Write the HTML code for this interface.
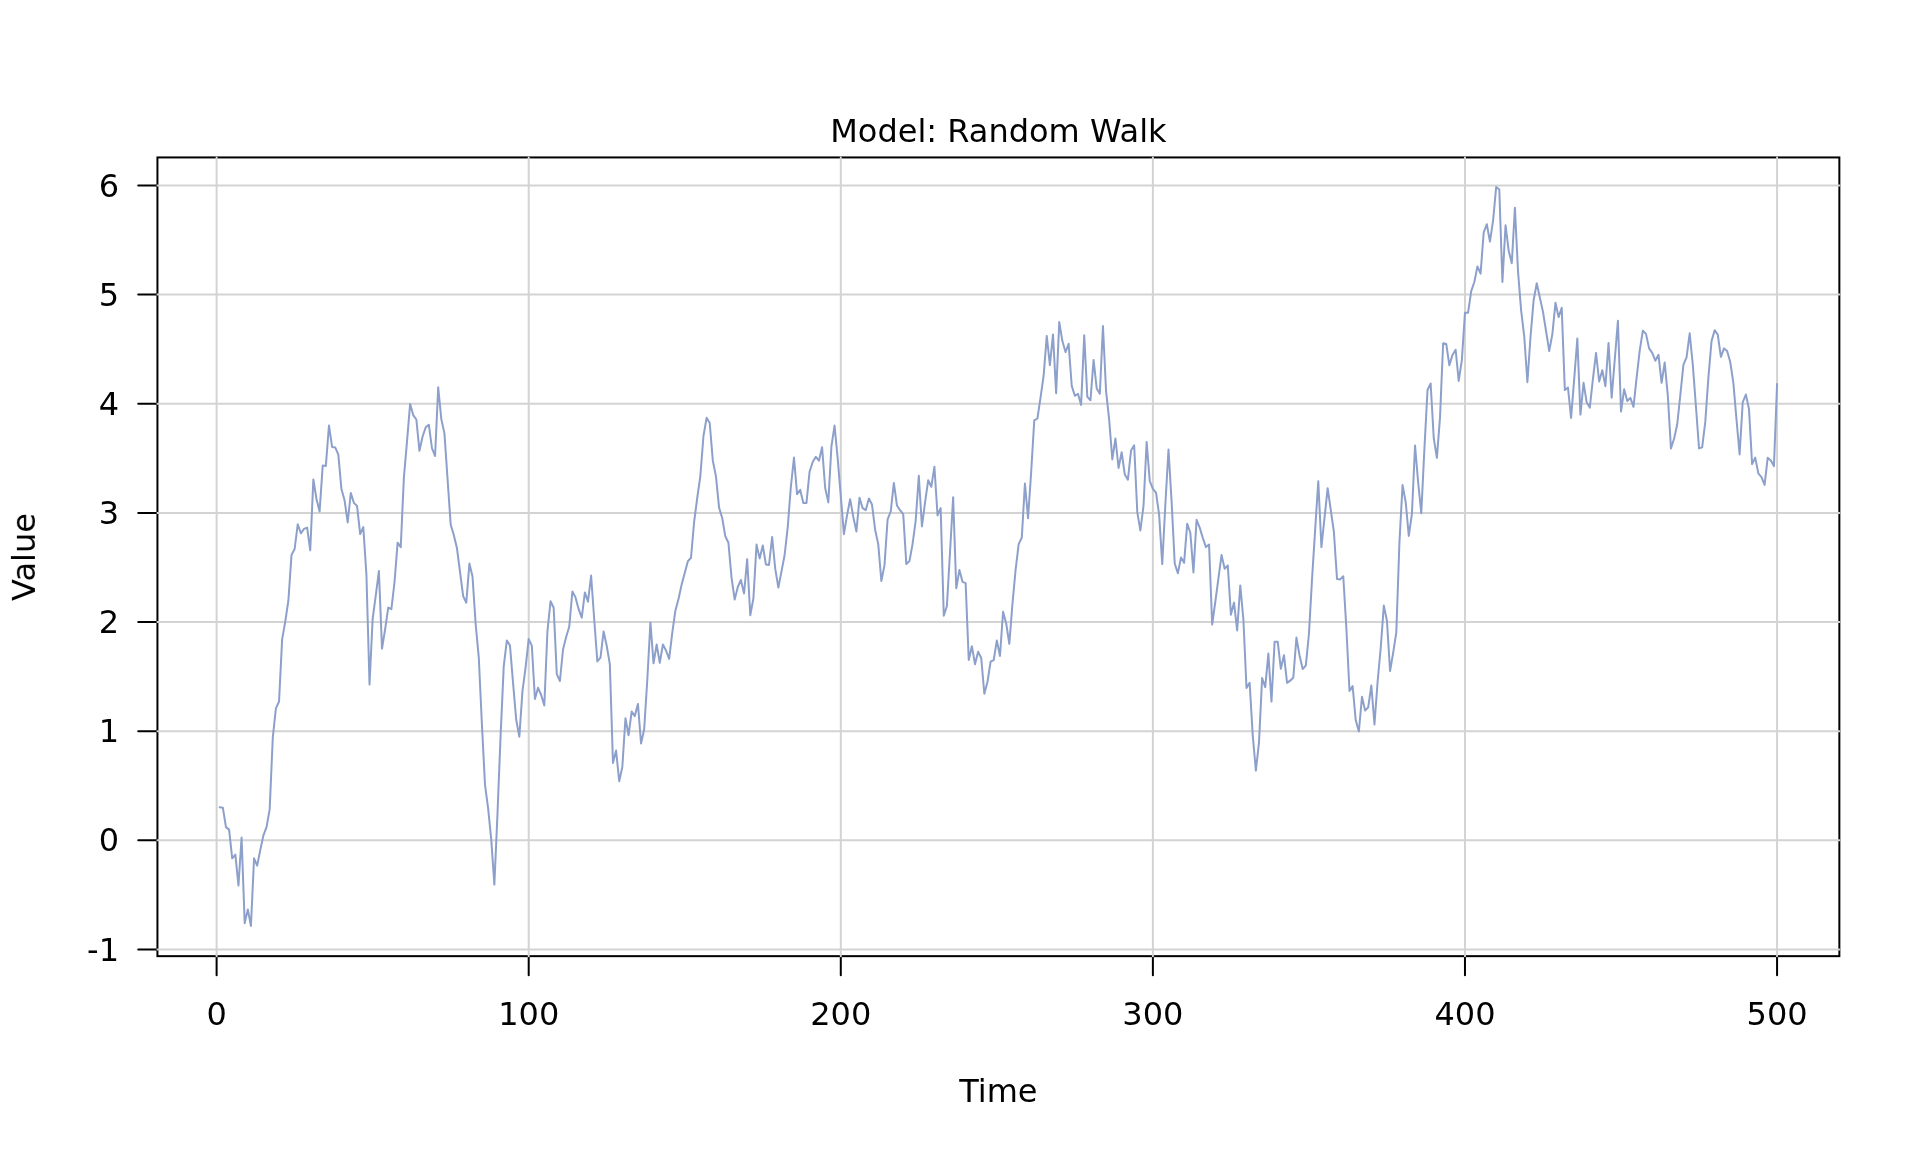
<!DOCTYPE html>
<html><head><meta charset="utf-8"><title>Model: Random Walk</title>
<style>html,body{margin:0;padding:0;background:#fff;overflow:hidden}svg{display:block}</style>
</head><body>
<svg width="1920" height="1152" viewBox="0 0 1920 1152">
<rect x="0" y="0" width="1920" height="1152" fill="#fff"/>
<rect x="157.44" y="157.44" width="1681.92" height="798.72" fill="none" stroke="#000" stroke-width="2"/>
<path d="M216.61 956.16V975.36M528.70 956.16V975.36M840.79 956.16V975.36M1152.88 956.16V975.36M1464.97 956.16V975.36M1777.07 956.16V975.36M157.44 949.40H138.24M157.44 840.27H138.24M157.44 731.14H138.24M157.44 622.01H138.24M157.44 512.88H138.24M157.44 403.75H138.24M157.44 294.62H138.24M157.44 185.49H138.24" stroke="#000" stroke-width="2" stroke-linecap="round" fill="none"/>
<path d="M216.61 157.44V956.16M528.70 157.44V956.16M840.79 157.44V956.16M1152.88 157.44V956.16M1464.97 157.44V956.16M1777.07 157.44V956.16M157.44 949.40H1839.36M157.44 840.27H1839.36M157.44 731.14H1839.36M157.44 622.01H1839.36M157.44 512.88H1839.36M157.44 403.75H1839.36M157.44 294.62H1839.36M157.44 185.49H1839.36" stroke="#d3d3d3" stroke-width="2" stroke-linecap="round" fill="none"/>
<polyline points="219.73,807.30 222.85,807.70 225.97,827.10 229.09,829.60 232.21,858.30 235.34,854.60 238.46,885.40 241.58,837.50 244.70,923.30 247.82,909.40 250.94,926.00 254.06,858.30 257.18,865.60 260.30,850.00 263.42,835.40 266.54,827.10 269.67,809.40 272.79,737.50 275.91,708.30 279.03,701.50 282.15,639.10 285.27,621.40 288.39,600.50 291.51,554.90 294.63,549.00 297.75,524.20 300.87,533.30 304.00,528.90 307.12,527.60 310.24,550.30 313.36,479.40 316.48,499.00 319.60,511.50 322.72,465.60 325.84,465.90 328.96,425.50 332.08,446.90 335.20,447.40 338.33,454.70 341.45,489.10 344.57,500.30 347.69,522.40 350.81,493.00 353.93,502.90 357.05,506.00 360.17,534.10 363.29,527.10 366.41,574.50 369.53,684.40 372.66,618.75 375.78,595.30 378.90,571.10 382.02,648.70 385.14,629.20 388.26,607.60 391.38,609.10 394.50,582.30 397.62,542.70 400.74,547.10 403.86,478.10 406.99,441.70 410.11,403.90 413.23,415.10 416.35,419.50 419.47,450.80 422.59,436.50 425.71,427.30 428.83,424.70 431.95,448.20 435.07,456.00 438.19,387.30 441.32,419.10 444.44,433.40 447.56,479.00 450.68,524.50 453.80,535.00 456.92,548.00 460.04,572.00 463.16,596.10 466.28,602.70 469.40,563.60 472.52,576.60 475.65,624.00 478.77,657.30 481.89,724.00 485.01,784.90 488.13,808.30 491.25,839.60 494.37,884.60 497.49,813.50 500.61,735.40 503.73,666.40 506.85,640.40 509.98,645.60 513.10,683.30 516.22,719.80 519.34,736.70 522.46,691.10 525.58,667.70 528.70,639.10 531.82,645.60 534.94,699.00 538.06,687.80 541.18,695.00 544.31,705.50 547.43,631.25 550.55,601.30 553.67,607.80 556.79,674.20 559.91,681.00 563.03,649.50 566.15,637.00 569.27,626.50 572.39,591.50 575.51,597.40 578.64,609.20 581.76,617.70 584.88,592.40 588.00,601.60 591.12,575.50 594.24,619.80 597.36,661.50 600.48,657.60 603.60,631.50 606.72,645.80 609.84,664.10 612.97,763.00 616.09,750.50 619.21,781.25 622.33,766.90 625.45,718.20 628.57,735.20 631.69,711.50 634.81,716.10 637.93,703.90 641.05,743.50 644.17,729.20 647.30,679.70 650.42,622.40 653.54,663.30 656.66,644.50 659.78,662.80 662.90,644.50 666.02,650.50 669.14,658.90 672.26,632.80 675.38,610.70 678.50,599.00 681.63,584.60 684.75,572.90 687.87,561.20 690.99,557.80 694.11,522.00 697.23,498.00 700.35,476.00 703.47,436.00 706.59,417.80 709.71,423.00 712.83,460.70 715.96,476.40 719.08,507.60 722.20,518.00 725.32,536.25 728.44,542.80 731.56,577.90 734.68,599.50 737.80,587.00 740.92,580.00 744.04,593.50 747.16,559.20 750.29,615.20 753.41,598.20 756.53,544.60 759.65,558.40 762.77,545.40 765.89,564.40 769.01,564.90 772.13,537.00 775.25,568.80 778.37,587.60 781.49,571.40 784.62,555.00 787.74,527.10 790.86,486.80 793.98,457.60 797.10,494.10 800.22,489.90 803.34,502.90 806.46,502.90 809.58,471.70 812.70,462.00 815.82,456.80 818.95,460.70 822.07,447.20 825.19,488.00 828.31,502.40 831.43,446.40 834.55,425.60 837.67,458.10 840.79,495.90 843.91,534.20 847.03,515.40 850.15,499.30 853.28,516.70 856.40,531.60 859.52,497.70 862.64,508.10 865.76,510.20 868.88,498.50 872.00,504.50 875.12,529.70 878.24,544.10 881.36,581.00 884.48,565.40 887.61,519.30 890.73,511.50 893.85,482.90 896.97,505.50 900.09,510.20 903.21,514.10 906.33,564.10 909.45,561.00 912.57,544.10 915.69,520.60 918.81,475.80 921.94,526.40 925.06,502.40 928.18,480.30 931.30,486.80 934.42,466.70 937.54,515.40 940.66,508.10 943.78,615.70 946.90,606.00 950.02,551.90 953.14,497.20 956.27,588.30 959.39,570.10 962.51,581.80 965.63,583.10 968.75,660.00 971.87,646.20 974.99,664.20 978.11,651.80 981.23,658.00 984.35,693.75 987.47,682.00 990.60,661.60 993.72,660.00 996.84,640.40 999.96,656.00 1003.08,611.80 1006.20,623.50 1009.32,643.80 1012.44,604.00 1015.56,570.10 1018.68,544.10 1021.80,537.50 1024.93,483.60 1028.05,518.20 1031.17,471.90 1034.29,420.30 1037.41,418.50 1040.53,397.70 1043.65,375.50 1046.77,335.90 1049.89,365.10 1053.01,334.40 1056.13,393.20 1059.26,322.10 1062.38,341.10 1065.50,352.10 1068.62,343.75 1071.74,385.90 1074.86,395.80 1077.98,393.75 1081.10,404.90 1084.22,335.20 1087.34,396.90 1090.46,400.30 1093.59,359.90 1096.71,388.50 1099.83,393.75 1102.95,326.00 1106.07,391.10 1109.19,419.80 1112.31,459.40 1115.43,438.50 1118.55,468.00 1121.67,452.30 1124.79,474.50 1127.92,479.70 1131.04,450.50 1134.16,445.30 1137.28,512.20 1140.40,530.50 1143.52,505.70 1146.64,441.90 1149.76,481.00 1152.88,488.80 1156.00,492.70 1159.12,514.60 1162.25,564.10 1165.37,504.20 1168.49,449.50 1171.61,501.60 1174.73,563.50 1177.85,573.20 1180.97,557.60 1184.09,562.80 1187.21,523.70 1190.33,532.80 1193.45,572.40 1196.58,519.80 1199.70,527.60 1202.82,538.00 1205.94,547.10 1209.06,544.50 1212.18,624.50 1215.30,601.80 1218.42,578.40 1221.54,555.00 1224.66,568.75 1227.78,565.40 1230.91,614.80 1234.03,602.60 1237.15,630.50 1240.27,585.40 1243.39,619.50 1246.51,688.00 1249.63,682.80 1252.75,735.40 1255.87,770.60 1258.99,742.70 1262.11,678.10 1265.24,687.20 1268.36,653.60 1271.48,701.60 1274.60,641.70 1277.72,641.70 1280.84,668.80 1283.96,655.20 1287.08,682.80 1290.20,680.70 1293.32,677.50 1296.44,637.60 1299.57,655.50 1302.69,669.00 1305.81,665.60 1308.93,634.00 1312.05,578.90 1315.17,529.40 1318.29,481.20 1321.41,547.10 1324.53,517.70 1327.65,488.20 1330.77,509.80 1333.90,532.00 1337.02,578.90 1340.14,579.40 1343.26,576.25 1346.38,628.30 1349.50,691.00 1352.62,686.00 1355.74,720.30 1358.86,731.50 1361.98,696.80 1365.10,710.60 1368.23,707.20 1371.35,685.50 1374.47,724.50 1377.59,682.00 1380.71,648.00 1383.83,605.60 1386.95,620.70 1390.07,671.00 1393.19,652.60 1396.31,632.40 1399.43,542.40 1402.56,485.10 1405.68,502.00 1408.80,535.90 1411.92,513.75 1415.04,445.50 1418.16,482.50 1421.28,513.20 1424.40,449.00 1427.52,390.00 1430.64,383.50 1433.76,438.20 1436.89,457.80 1440.01,417.40 1443.13,343.20 1446.25,344.00 1449.37,365.30 1452.49,354.90 1455.61,349.70 1458.73,380.90 1461.85,360.10 1464.97,312.70 1468.09,312.70 1471.22,291.10 1474.34,282.00 1477.46,266.40 1480.58,273.60 1483.70,232.50 1486.82,224.20 1489.94,241.60 1493.06,220.80 1496.18,186.90 1499.30,189.50 1502.42,282.00 1505.55,225.20 1508.67,250.70 1511.79,263.20 1514.91,207.80 1518.03,271.60 1521.15,310.60 1524.27,336.70 1527.39,382.20 1530.51,336.70 1533.63,300.20 1536.75,283.30 1539.88,297.60 1543.00,311.90 1546.12,331.50 1549.24,351.00 1552.36,334.10 1555.48,302.80 1558.60,317.10 1561.72,307.80 1564.84,390.10 1567.96,387.50 1571.08,418.00 1574.21,378.90 1577.33,338.50 1580.45,414.60 1583.57,382.80 1586.69,402.30 1589.81,407.60 1592.93,378.90 1596.05,352.90 1599.17,381.50 1602.29,370.30 1605.41,386.20 1608.54,343.00 1611.66,397.70 1614.78,359.40 1617.90,320.80 1621.02,411.50 1624.14,389.30 1627.26,401.00 1630.38,397.90 1633.50,406.80 1636.62,377.60 1639.74,350.30 1642.87,330.70 1645.99,333.90 1649.11,348.40 1652.23,352.90 1655.35,360.70 1658.47,354.70 1661.59,382.80 1664.71,362.50 1667.83,395.80 1670.95,448.40 1674.07,438.80 1677.20,424.50 1680.32,395.00 1683.44,364.60 1686.56,357.30 1689.68,333.30 1692.80,364.60 1695.92,406.25 1699.04,448.40 1702.16,447.40 1705.28,421.90 1708.40,377.60 1711.53,341.10 1714.65,330.20 1717.77,334.60 1720.89,356.80 1724.01,348.40 1727.13,351.00 1730.25,362.00 1733.37,382.80 1736.49,419.30 1739.61,454.40 1742.73,402.30 1745.86,394.50 1748.98,408.90 1752.10,464.10 1755.22,457.60 1758.34,473.40 1761.46,477.10 1764.58,484.90 1767.70,457.80 1770.82,460.40 1773.94,466.10 1777.07,384.10" fill="none" stroke="#8da0cb" stroke-width="2" stroke-linejoin="round" stroke-linecap="round"/>
<g font-family="DejaVu Sans, Liberation Sans, sans-serif" font-size="32" fill="#000" opacity="0.999"><text x="216.61" y="1024.6" text-anchor="middle">0</text><text x="528.70" y="1024.6" text-anchor="middle">100</text><text x="840.79" y="1024.6" text-anchor="middle">200</text><text x="1152.88" y="1024.6" text-anchor="middle">300</text><text x="1464.97" y="1024.6" text-anchor="middle">400</text><text x="1777.07" y="1024.6" text-anchor="middle">500</text><text x="119" y="960.50" text-anchor="end">-1</text><text x="119" y="851.37" text-anchor="end">0</text><text x="119" y="742.24" text-anchor="end">1</text><text x="119" y="633.11" text-anchor="end">2</text><text x="119" y="523.98" text-anchor="end">3</text><text x="119" y="414.85" text-anchor="end">4</text><text x="119" y="305.72" text-anchor="end">5</text><text x="119" y="196.59" text-anchor="end">6</text><text x="998.4" y="142.1" text-anchor="middle">Model: Random Walk</text><text x="998.4" y="1102" text-anchor="middle">Time</text><text transform="translate(34.9 557.0) rotate(-90)" text-anchor="middle">Value</text></g>
</svg>
</body></html>
